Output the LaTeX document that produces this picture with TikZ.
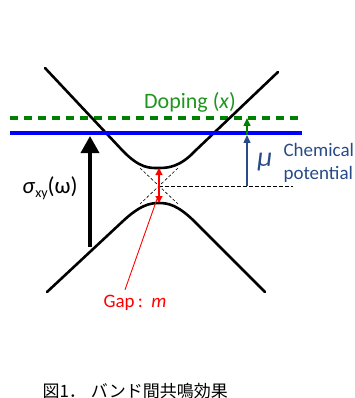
\documentclass[tikz,border=0pt]{standalone}
\usepackage{fontspec}
\setmainfont{Carlito}
\newfontfamily\cjk{Noto Sans CJK JP}
\usetikzlibrary{arrows.meta, calc, positioning}
\definecolor{dopegreen}{RGB}{0,128,0}
\definecolor{dopetext}{RGB}{30,150,30}
\definecolor{chemblue}{RGB}{40,75,135}

\begin{document}
\begin{tikzpicture}[x=1pt, y=-1pt, >={Triangle[length=8pt, width=7pt]}]
    \useasboundingbox (0,0) rectangle (355,398);

    % Key points
    \coordinate (dirac) at (159,186);
    \coordinate (cbmin) at (159,168);
    \coordinate (vbmax) at (159,203);
    \coordinate (sigbot) at (90,247);
    \coordinate (sigtop) at (90,136);
    \coordinate (mubot) at (247,186);
    \coordinate (mutop) at (247,135);
    \coordinate (dopetop) at (247,118);
    \coordinate (gaptip) at (157,199);

    % Asymptotes and reference level
    \draw[line width=0.6pt, dash pattern=on 3pt off 2pt] (140,168) -- (178,204);
    \draw[line width=0.6pt, dash pattern=on 3pt off 2pt] (178,168) -- (140,204);
    \draw[line width=0.8pt, dash pattern=on 3.5pt off 2.5pt] (dirac) -- (293,186);

    % Doping level
    \draw[dopegreen, line width=3.5pt, dash pattern=on 8pt off 6pt] (10,118) -- (302,118);

    % Bands
    \draw[line width=2.6pt, line cap=round] (45,68) -- (122,150) .. controls (140,169) and (150,168) .. (cbmin) .. controls (168,168) and (180,167) .. (195,151) -- (278,72);
    \draw[line width=2.6pt, line cap=round] (47,292) -- (122,222) .. controls (140,205) and (150,203) .. (vbmax) .. controls (168,203) and (178,205) .. (195,222) -- (265,292);

    % Chemical potential
    \draw[blue, line width=4pt] (10,133) -- (302,133);

    % Arrows
    \draw[->, line width=3.5pt, >={Triangle[length=17pt, width=18pt]}] (sigbot) -- (sigtop);
    \draw[->, chemblue, line width=1.3pt] (mubot) -- (mutop);
    \draw[->, dopegreen, line width=1.5pt] (mutop) -- (dopetop);
    \draw[<->, red, line width=1.2pt, >={Triangle[length=7pt, width=7pt]}] (vbmax) -- (cbmin);

    % Labels
    \node[text=dopetext, font=\fontsize{22}{24}\selectfont] (doping) at (190,102) {Doping (\textit{x})};
    \node[font=\fontsize{23}{26}\selectfont] (sigma) at (50,188) {\textit{σ}\raisebox{-0.35ex}{\fontsize{14}{14}\selectfont xy}(ω)};
    \node[text=chemblue, font=\fontsize{28}{30}\selectfont\itshape] (mu) at (265,162) {μ};
    \node[text=chemblue, align=left, anchor=west, font=\fontsize{19}{23}\selectfont] (chempot) at (280,163) {Chemical\\potential};
    \node[text=red, font=\fontsize{19}{22}\selectfont] (gap) at (135,303) {Gap\,:\ \ \textit{m}};
    \draw[red, line width=0.9pt] ($(gap.north)+(-10,-2)$) -- (gaptip);

    % Caption
    \node[anchor=west, font=\cjk\fontsize{17}{19}\selectfont] (caption) at (39,391) {図1．\hspace{5pt}バンド間共鳴効果};
\end{tikzpicture}
\end{document}
